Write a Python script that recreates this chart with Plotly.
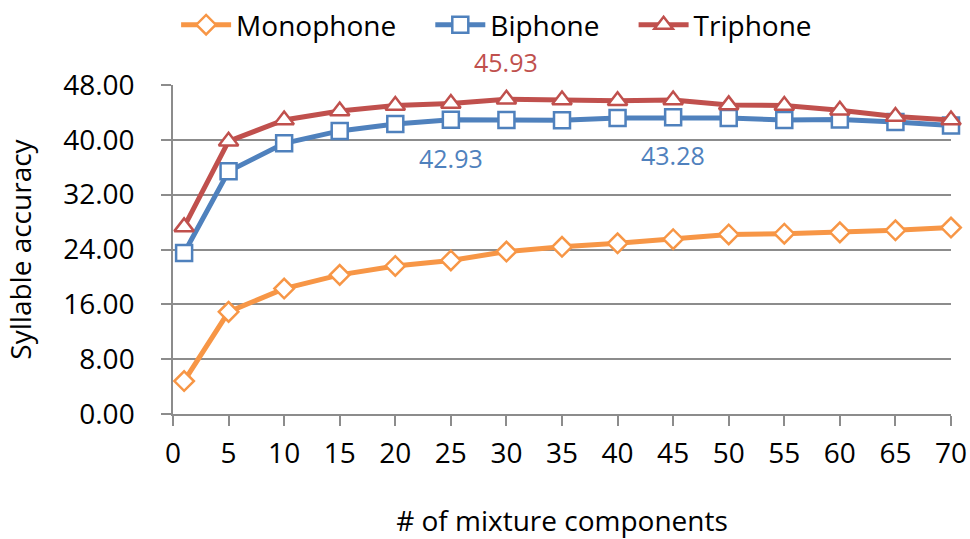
import plotly.graph_objects as go

# Number of Gaussian mixture components per state
components = [1, 5, 10, 15, 20, 25, 30, 35, 40, 45, 50, 55, 60, 65, 70]

# Syllable accuracy (%) for each acoustic model type
monophone = [4.8, 14.9, 18.3, 20.3, 21.6, 22.4, 23.7, 24.4, 24.9, 25.5, 26.2, 26.3, 26.5, 26.8, 27.2]
biphone = [23.5, 35.4, 39.5, 41.3, 42.3, 42.93, 42.9, 42.85, 43.2, 43.28, 43.2, 42.9, 42.95, 42.6, 42.1]
triphone = [27.3, 39.8, 42.9, 44.2, 45.0, 45.3, 45.93, 45.8, 45.7, 45.8, 45.1, 45.0, 44.3, 43.4, 42.9]

y_ticks = [0, 8, 16, 24, 32, 40, 48]
x_ticks = [0, 5, 10, 15, 20, 25, 30, 35, 40, 45, 50, 55, 60, 65, 70]

FONT = "Open Sans"
ORANGE = "#F79646"
BLUE = "#4F81BD"
RED = "#C0504D"
GRID = "#8C8C8C"
NBSP = "\u00a0"

series = [
    ("Monophone", monophone, ORANGE, "diamond", 15, 4),
    ("Biphone", biphone, BLUE, "square", 16, 4),
    ("Triphone", triphone, RED, "triangle-up", 17, 0),
]

fig = go.Figure()
for name, vals, color, symbol, size, pad in series:
    fig.add_trace(go.Scatter(
        x=components, y=vals, name=name + NBSP * pad, mode="lines+markers",
        line=dict(color=color, width=5),
        marker=dict(symbol=symbol, size=size, color="white",
                    line=dict(color=color, width=2.5)),
        cliponaxis=False,
    ))

# Value callouts: best triphone result above, two biphone results below
callouts = [
    (components[6], triphone[6], RED, 37),
    (components[5], biphone[5], BLUE, -38),
    (components[9], biphone[9], BLUE, -38),
]
for cx, cy, color, shift in callouts:
    fig.add_annotation(x=cx, y=cy, text=f"{cy:.2f}", showarrow=False,
                       yshift=shift, font=dict(family=FONT, size=25, color=color))

fig.update_layout(
    width=970, height=539,
    margin=dict(l=173, r=19, t=85, b=125, autoexpand=False),
    paper_bgcolor="white", plot_bgcolor="white",
    font=dict(family=FONT, size=28, color="black"),
    showlegend=True,
    legend=dict(orientation="h", x=0.004, xanchor="left",
                yref="container", y=1 - 25 / 539, yanchor="middle",
                font=dict(family=FONT, size=28, color="black"),
                itemwidth=50, bgcolor="rgba(0,0,0,0)"),
    xaxis=dict(
        range=[0, 70], tickvals=x_ticks, ticktext=[str(v) for v in x_ticks],
        showgrid=False, zeroline=False, automargin=False,
        showline=True, linecolor=GRID, linewidth=1.5,
        ticks="outside", ticklen=10, tickcolor=GRID, tickwidth=1.5,
        ticklabelstandoff=4,
        tickfont=dict(family=FONT, size=28, color="black"),
        title=dict(text="# of mixture components", standoff=56,
                   font=dict(family=FONT, size=28, color="black")),
    ),
    yaxis=dict(
        range=[0, 48], tickvals=y_ticks, tickformat=".2f",
        showgrid=True, gridcolor=GRID, gridwidth=1.5, zeroline=False, automargin=False,
        showline=True, linecolor=GRID, linewidth=1.5,
        ticks="outside", ticklen=10, tickcolor=GRID, tickwidth=1.5,
        ticklabelstandoff=21,
        tickfont=dict(family=FONT, size=28, color="black"),
        title=dict(text="Syllable accuracy", standoff=23,
                   font=dict(family=FONT, size=28, color="black")),
    ),
)

fig.write_html("out.html")
